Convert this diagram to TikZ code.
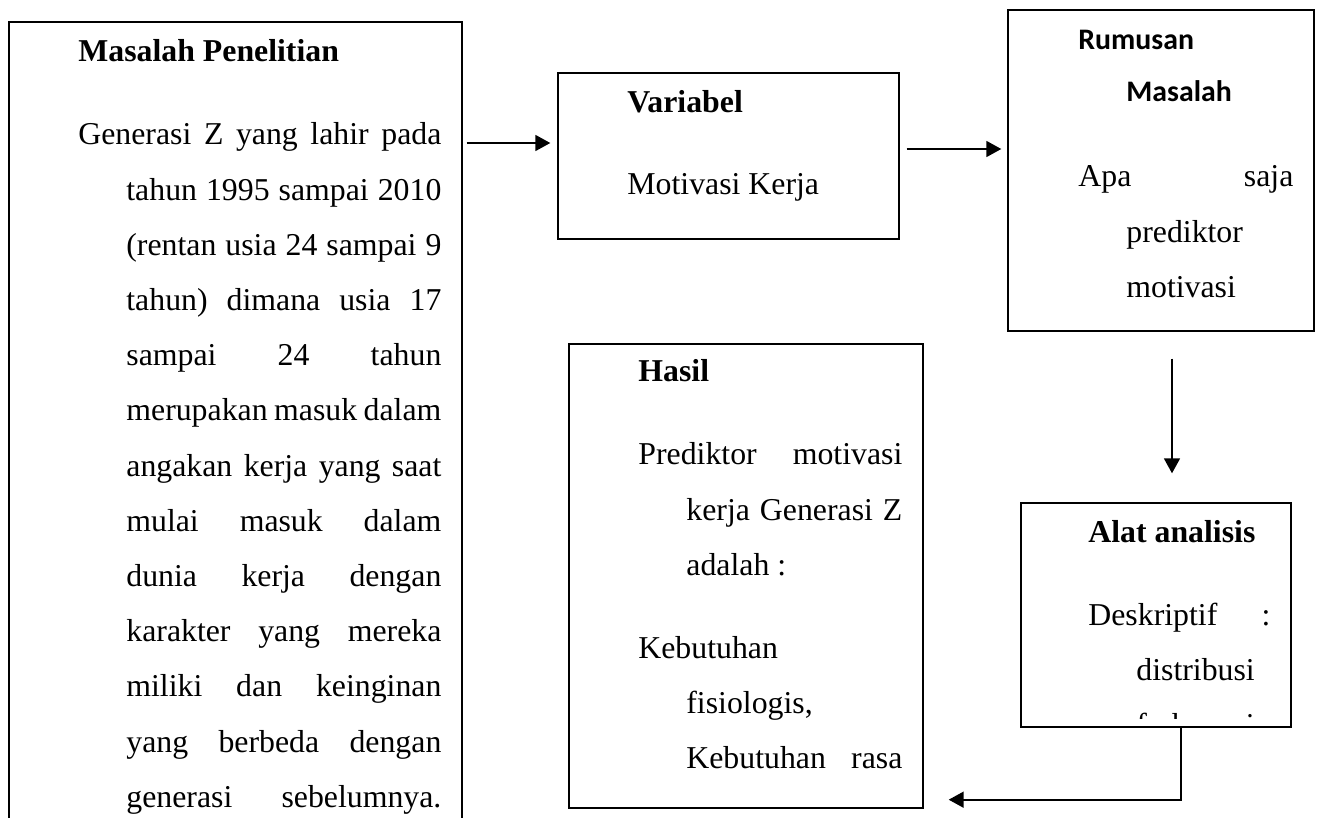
\documentclass[tikz,border=0pt]{standalone}
\usepackage{fontspec}
\setmainfont{Liberation Serif}
\newfontfamily\headsans{Carlito}
\usetikzlibrary{arrows.meta,positioning}

% text set like the word-processor boxes
\newcommand{\boxfont}{\fontsize{15.9}{27.6}\selectfont\parskip=13.9pt\relax
  \hyphenpenalty=10000\relax\tolerance=10000\relax\hbadness=10000\relax}
\newcommand{\hangfirst}{\hangindent=24pt\hangafter=1\relax}
\newcommand{\softbreak}{\hfil\break}

\begin{document}
\begin{tikzpicture}[
  x=0.5pt, y=-0.5pt,
  boxframe/.style={draw, line width=0.7pt, inner sep=0pt},
  headtext/.style={anchor=base west, inner sep=0pt, font=\fontsize{15.9}{27.6}\selectfont\bfseries},
  bodytext/.style={anchor=base west, inner sep=0pt, align=justify, font=\fontsize{15.9}{27.6}\selectfont},
  arrow/.style={-{Triangle[length=7.5pt,width=8pt]}, line width=0.9pt}
]
  \fill[white] (0,0) rectangle (1319,818);
  \useasboundingbox (0,0) rectangle (1319,818);

  % Boxes
  \node (masalah) [boxframe, minimum width=226.5pt, minimum height=414pt] at (235.5,436) {};
  \node (variabel) [boxframe, minimum width=170.5pt, minimum height=83pt] at (728.5,156) {};
  \node (rumusan) [boxframe, minimum width=153pt, minimum height=160.5pt] at (1161,170.5) {};
  \node (hasil) [boxframe, minimum width=177pt, minimum height=232pt] at (746,576) {};
  \node (alat) [boxframe, minimum width=135pt, minimum height=112pt] at (1156,615) {};

  % Texts
  \node (masalahhead) [headtext] at (78,62) {Masalah Penelitian};
  \node (masalahbody) [bodytext, text width=181.5pt] at (78,145) {\boxfont\hangfirst\parfillskip=0pt
    Generasi Z yang lahir pada\linebreak
    tahun 1995 sampai 2010\linebreak
    (rentan usia 24 sampai 9\linebreak
    tahun) dimana usia 17\linebreak
    sampai 24 tahun\linebreak
    merupakan masuk dalam\linebreak
    angakan kerja yang saat\linebreak
    mulai masuk dalam\linebreak
    dunia kerja dengan\linebreak
    karakter yang mereka\linebreak
    miliki dan keinginan\linebreak
    yang berbeda dengan\linebreak
    generasi sebelumnya.\par};

  \node (variabelhead) [headtext] at (627,113) {Variabel};
  \node (variabelbody) [bodytext] at (627,195) {Motivasi Kerja};

  \node (rumusanhead) [headtext, text width=107.5pt, align=left] at (1078,50)
    {\fontsize{14.9}{26}\selectfont\headsans\bfseries\hangfirst Rumusan\softbreak Masalah\par};
  \node (rumusanbody) [bodytext, text width=107.5pt] at (1078,187)
    {\boxfont\hangfirst Apa saja\linebreak prediktor\softbreak motivasi\par};

  \node (hasilhead) [headtext] at (638,382) {Hasil};
  \node (hasilbody) [bodytext, text width=132pt] at (638,465) {\boxfont\hangfirst
    Prediktor motivasi\linebreak kerja Generasi Z\linebreak adalah :\par
    \hangfirst\parfillskip=0pt Kebutuhan\softbreak fisiologis,\softbreak Kebutuhan rasa\par};

  \node (alathead) [headtext] at (1088,543) {Alat analisis};
  \begin{scope}
    \clip (alat.north west) rectangle (alat.east |- 0,718);
    \node (alatbody) [bodytext, text width=91pt] at (1088,625)
      {\boxfont\hangfirst Deskriptif :\linebreak distribusi\softbreak frekuensi\par};
  \end{scope}

  % Paths
  \draw [arrow, shorten <=2pt, shorten >=3.5pt] ([yshift=6.5pt]variabel.west -| masalah.east) -- ([yshift=6.5pt]variabel.west);
  \draw [arrow, shorten <=3.5pt, shorten >=3pt] ([yshift=3.5pt]variabel.east) -- ([yshift=3.5pt]variabel.east -| rumusan.west);
  \draw [arrow, shorten <=13.5pt, shorten >=14.5pt] ([xshift=5.5pt]rumusan.south) -- ([xshift=5.5pt]rumusan.south |- alat.north);
  \draw [arrow, shorten >=12.5pt] ([xshift=12.5pt]alat.south) |- ([yshift=4.5pt]hasil.south east);
\end{tikzpicture}
\end{document}
